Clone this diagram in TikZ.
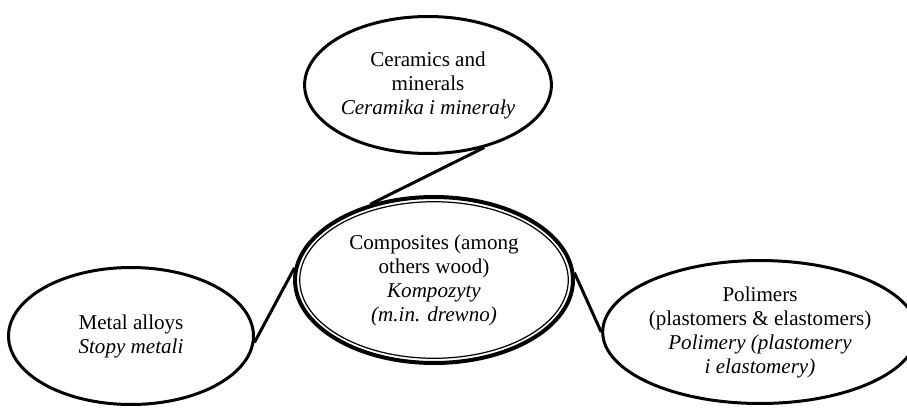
\documentclass[tikz,border=0pt]{standalone}
\usepackage{fontspec}
\setmainfont{Liberation Serif}
\usetikzlibrary{shapes.geometric}
\tikzstyle{material} = [ellipse, draw=black, line width=0.06cm, inner sep=0pt, align=center, font=\fontsize{12}{13.66}\selectfont]
\tikzstyle{composite} = [material, line width=0.08cm]
\tikzstyle{link} = [line width=0.06cm]

\begin{document}
\begin{tikzpicture}[x=0.02cm, y=-0.02cm]
        \useasboundingbox (0,0) rectangle (907,407);
        \node (cer) [material, minimum width=4.54cm, minimum height=2.74cm] at (428,85) {Ceramics and\\minerals\\\textit{Ceramika i minerały}};
        \node (comp) [composite, minimum width=5.56cm, minimum height=3.32cm] at (434,280) {Composites (among\\others wood)\\\textit{Kompozyty}\\\textit{(m.in. drewno)}};
        \draw [line width=0.7pt] (comp.center) ellipse [x radius=2.686cm, y radius=1.566cm];
        \node (metal) [material, minimum width=4.9cm, minimum height=2.74cm] at (131,336) {Metal alloys\\\textit{Stopy metali}};
        \node (pol) [material, minimum width=5.82cm, minimum height=2.86cm] at (760,332) {Polimers\\(plastomers \& elastomers)\\\textit{Polimery (plastomery}\\\textit{i elastomery)}};
        \draw [link] (cer.-48) -- (comp.130);
        \draw [link] (comp.175) -- (metal.-3);
        \draw [link] (comp.3) -- (pol.180);
    \end{tikzpicture}
\end{document}
